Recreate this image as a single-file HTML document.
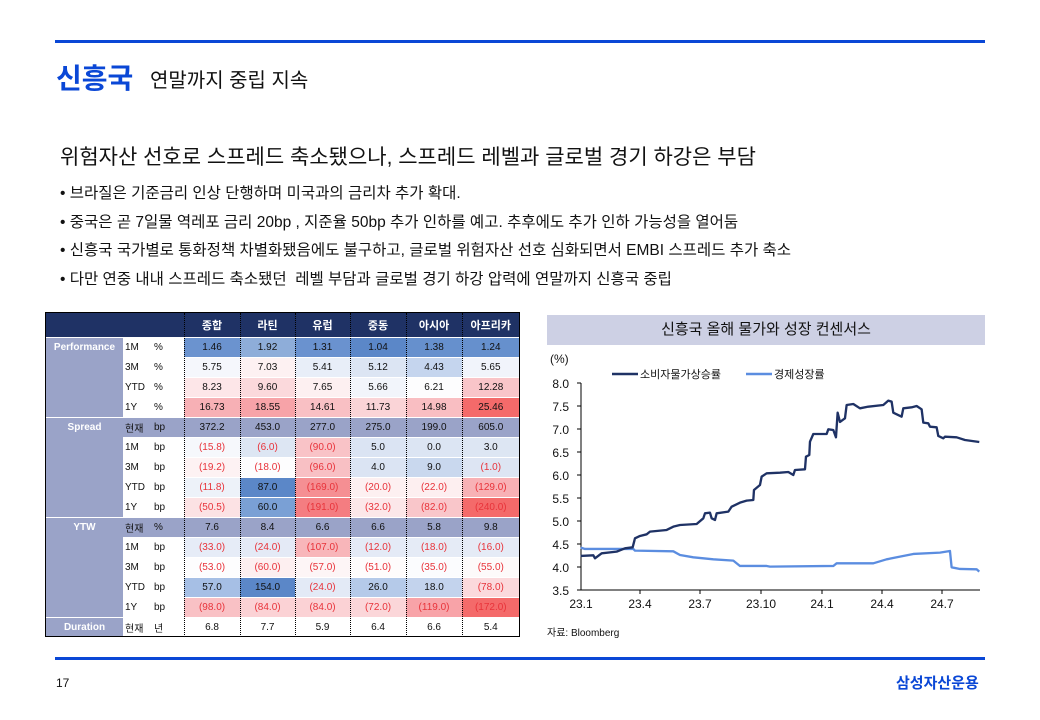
<!DOCTYPE html>
<html><head><meta charset="utf-8"><style>
*{margin:0;padding:0;box-sizing:border-box}
body{width:1040px;height:720px;background:#fff;position:relative;font-family:"Liberation Sans","Noto Sans CJK KR",sans-serif;overflow:hidden;color:#111}
.abs{position:absolute;white-space:nowrap}
table{position:absolute;left:46px;top:313px;border-collapse:collapse;table-layout:fixed;font-size:10px;width:473px}
td{height:20px;text-align:center;padding:0;border-bottom:1px solid #fff;border-left:1px dotted #000}
td.l{text-align:left;padding-left:2px;border-left:none}
tr.h td{background:#1f3265;color:#fff;height:24px;font-size:11px;font-weight:bold}
td.g{background:#9aa3c8;color:#fff;font-weight:bold;vertical-align:top;padding-top:4px;border-left:none}
tr.c td{background:#9aa3c8}
tr.sep td{border-top:1.5px solid #000}
.r{color:#e8333a}
</style></head><body>
<div class="abs" style="left:55px;top:40px;width:930px;height:3px;background:#0a47d6"></div>
<div class="abs" style="left:56px;top:57px;font-size:28px;color:#0a47d6;font-weight:bold">신흥국</div>
<div class="abs" style="left:150px;top:64px;font-size:20px">연말까지 중립 지속</div>
<div class="abs" style="left:60px;top:141px;font-size:21px">위험자산 선호로 스프레드 축소됐으나, 스프레드 레벨과 글로벌 경기 하강은 부담</div>
<div class="abs" style="left:60px;top:180px;font-size:15.5px;line-height:28.5px">• 브라질은 기준금리 인상 단행하며 미국과의 금리차 추가 확대.<br>• 중국은 곧 7일물 역레포 금리 20bp , 지준율 50bp 추가 인하를 예고. 추후에도 추가 인하 가능성을 열어둠<br>• 신흥국 국가별로 통화정책 차별화됐음에도 불구하고, 글로벌 위험자산 선호 심화되면서 EMBI 스프레드 추가 축소<br>• 다만 연중 내내 스프레드 축소됐던 &nbsp;레벨 부담과 글로벌 경기 하강 압력에 연말까지 신흥국 중립</div>

<table>
<colgroup><col style="width:77px"><col style="width:29px"><col style="width:32px"><col style="width:56px"><col style="width:55px"><col style="width:55px"><col style="width:56px"><col style="width:56px"><col style="width:57px"></colgroup>
<tr class="h"><td colspan="3" style="border-left:none"></td><td>종합</td><td>라틴</td><td>유럽</td><td>중동</td><td>아시아</td><td>아프리카</td></tr>
<tr><td class="g" rowspan="4">Performance</td><td class="l">1M</td><td class="l">%</td><td style="background:#6b93cf">1.46</td><td style="background:#8eadd9">1.92</td><td style="background:#6a92cf">1.31</td><td style="background:#5b87c8">1.04</td><td style="background:#6690cd">1.38</td><td style="background:#6690cd">1.24</td></tr>
<tr><td class="l">3M</td><td class="l">%</td><td style="background:#f5f7fc">5.75</td><td style="background:#fdf1f2">7.03</td><td style="background:#e8eef8">5.41</td><td style="background:#dce5f3">5.12</td><td style="background:#c5d5ee">4.43</td><td style="background:#f1f4fb">5.65</td></tr>
<tr><td class="l">YTD</td><td class="l">%</td><td style="background:#fde6e8">8.23</td><td style="background:#fbd9dc">9.60</td><td style="background:#fdf0f1">7.65</td><td style="background:#f2f5fb">5.66</td><td style="background:#fdfdfe">6.21</td><td style="background:#f9c5c9">12.28</td></tr>
<tr><td class="l">1Y</td><td class="l">%</td><td style="background:#f7b0b5">16.73</td><td style="background:#f7a3a8">18.55</td><td style="background:#f9c0c4">14.61</td><td style="background:#fad4d7">11.73</td><td style="background:#f9bec2">14.98</td><td style="background:#f46a6a">25.46</td></tr>
<tr class="c sep"><td class="g" rowspan="5">Spread</td><td class="l">현재</td><td class="l">bp</td><td>372.2</td><td>453.0</td><td>277.0</td><td>275.0</td><td>199.0</td><td>605.0</td></tr>
<tr><td class="l">1M</td><td class="l">bp</td><td class="r" style="background:#f6f8fc">(15.8)</td><td class="r" style="background:#dde6f3">(6.0)</td><td class="r" style="background:#f9c3c7">(90.0)</td><td style="background:#dbe4f3">5.0</td><td style="background:#dce5f3">0.0</td><td style="background:#dde6f3">3.0</td></tr>
<tr><td class="l">3M</td><td class="l">bp</td><td class="r" style="background:#fdf2f3">(19.2)</td><td class="r" style="background:#fdfdfe">(18.0)</td><td class="r" style="background:#f8c0c4">(96.0)</td><td style="background:#dbe4f3">4.0</td><td style="background:#c9d8ee">9.0</td><td class="r" style="background:#dde5f3">(1.0)</td></tr>
<tr><td class="l">YTD</td><td class="l">bp</td><td class="r" style="background:#edf2f9">(11.8)</td><td style="background:#5b87c8">87.0</td><td class="r" style="background:#f58f93">(169.0)</td><td class="r" style="background:#fdf0f1">(20.0)</td><td class="r" style="background:#fdeff0">(22.0)</td><td class="r" style="background:#f8b1b5">(129.0)</td></tr>
<tr><td class="l">1Y</td><td class="l">bp</td><td class="r" style="background:#fce2e4">(50.5)</td><td style="background:#7aa0d5">60.0</td><td class="r" style="background:#f47d81">(191.0)</td><td class="r" style="background:#fce7e9">(32.0)</td><td class="r" style="background:#f9c6ca">(82.0)</td><td class="r" style="background:#f46a6a">(240.0)</td></tr>
<tr class="c sep"><td class="g" rowspan="5">YTW</td><td class="l">현재</td><td class="l">%</td><td>7.6</td><td>8.4</td><td>6.6</td><td>6.6</td><td>5.8</td><td>9.8</td></tr>
<tr><td class="l">1M</td><td class="l">bp</td><td class="r" style="background:#e6ecf7">(33.0)</td><td class="r" style="background:#e4eaf6">(24.0)</td><td class="r" style="background:#f8b6ba">(107.0)</td><td class="r" style="background:#e4eaf6">(12.0)</td><td class="r" style="background:#e5ebf6">(18.0)</td><td class="r" style="background:#e5ebf6">(16.0)</td></tr>
<tr><td class="l">3M</td><td class="l">bp</td><td class="r" style="background:#fdfdfe">(53.0)</td><td class="r" style="background:#fdeff0">(60.0)</td><td class="r" style="background:#fdf5f6">(57.0)</td><td class="r" style="background:#fefcfc">(51.0)</td><td class="r" style="background:#fbfcfe">(35.0)</td><td class="r" style="background:#fdfafa">(55.0)</td></tr>
<tr><td class="l">YTD</td><td class="l">bp</td><td style="background:#a6bfe5">57.0</td><td style="background:#5b87c8">154.0</td><td class="r" style="background:#e3eaf6">(24.0)</td><td style="background:#b5cae9">26.0</td><td style="background:#c3d3ed">18.0</td><td class="r" style="background:#fbd9dc">(78.0)</td></tr>
<tr><td class="l">1Y</td><td class="l">bp</td><td class="r" style="background:#f9c1c5">(98.0)</td><td class="r" style="background:#fbd2d5">(84.0)</td><td class="r" style="background:#fbd2d5">(84.0)</td><td class="r" style="background:#fbd6d9">(72.0)</td><td class="r" style="background:#f8a3a8">(119.0)</td><td class="r" style="background:#f46a6a">(172.0)</td></tr>
<tr class="sep"><td class="g" style="padding-top:0;vertical-align:middle">Duration</td><td class="l">현재</td><td class="l">년</td><td>6.8</td><td>7.7</td><td>5.9</td><td>6.4</td><td>6.6</td><td>5.4</td></tr>
</table>
<div class="abs" style="left:45px;top:312px;width:475px;height:325px;border:1.5px solid #000"></div>

<div class="abs" style="left:547px;top:315px;width:438px;height:30px;background:#cdd0e4;text-align:center;font-size:15px;line-height:30px">신흥국 올해 물가와 성장 컨센서스</div>
<svg class="abs" style="left:0;top:0" width="1040" height="720">
<g font-family="Liberation Sans, Noto Sans CJK KR, sans-serif" font-size="12" fill="#111">
<text x="550" y="363">(%)</text>
<g text-anchor="end">
<text x="569" y="388">8.0</text><text x="569" y="411">7.5</text><text x="569" y="434">7.0</text><text x="569" y="457">6.5</text><text x="569" y="480">6.0</text><text x="569" y="503">5.5</text><text x="569" y="526">5.0</text><text x="569" y="549">4.5</text><text x="569" y="572">4.0</text><text x="569" y="595">3.5</text></g>
<g text-anchor="middle"><text x="581" y="608">23.1</text><text x="640" y="608">23.4</text><text x="700" y="608">23.7</text><text x="761" y="608">23.10</text><text x="822" y="608">24.1</text><text x="882" y="608">24.4</text><text x="942" y="608">24.7</text></g>
<text x="547" y="636" font-size="10">자료: Bloomberg</text>
<text x="640" y="378" font-size="11">소비자물가상승률</text><text x="774" y="378" font-size="11">경제성장률</text>
</g>
<line x1="612" y1="374" x2="638" y2="374" stroke="#1f3265" stroke-width="2.5"/>
<line x1="746" y1="374" x2="772" y2="374" stroke="#5b8de0" stroke-width="2.5"/>
<g stroke="#000" stroke-width="1"><line x1="581" y1="383" x2="581" y2="590"/><line x1="581" y1="590" x2="980" y2="590"/>
<path d="M577 383h4M577 406h4M577 429h4M577 452h4M577 475h4M577 498h4M577 521h4M577 544h4M577 567h4M577 590h4M640 590v4M700 590v4M761 590v4M822 590v4M882 590v4M942 590v4"/></g>
<g transform="translate(540,310) scale(0.3333)" fill="none" stroke-width="7" stroke-linejoin="round">
<polyline stroke="#5b8de0" points="122,713 135,717 280,717 285,722 400,724 420,735 460,742 520,748 580,752 600,768 680,768 690,770 880,768 890,760 1000,760 1040,748 1080,740 1120,732 1200,728 1230,723 1235,772 1260,777 1310,778 1318,785"/>
<polyline stroke="#1f3265" points="122,738 160,736 165,745 185,730 230,725 255,715 278,712 285,685 300,678 320,673 330,665 380,660 400,650 420,645 470,642 490,625 495,610 510,608 515,625 525,630 530,610 565,605 575,590 600,578 620,572 640,570 642,540 660,525 665,500 680,490 720,488 745,486 760,495 765,480 795,478 798,440 808,435 810,395 820,372 860,372 865,358 880,360 888,382 893,308 900,336 915,325 920,285 940,282 960,295 985,290 1030,285 1045,272 1055,275 1060,308 1085,320 1090,295 1115,292 1130,288 1145,298 1150,338 1165,340 1170,350 1190,352 1195,378 1210,385 1215,380 1250,382 1275,390 1318,396"/>
</g>
</svg>
<div class="abs" style="left:55px;top:657px;width:930px;height:3px;background:#0a47d6"></div>
<div class="abs" style="left:56px;top:676px;font-size:12px">17</div>
<div class="abs" style="left:896px;top:672px;font-size:15px;font-weight:bold;color:#0a47d6">삼성자산운용</div>
</body></html>
